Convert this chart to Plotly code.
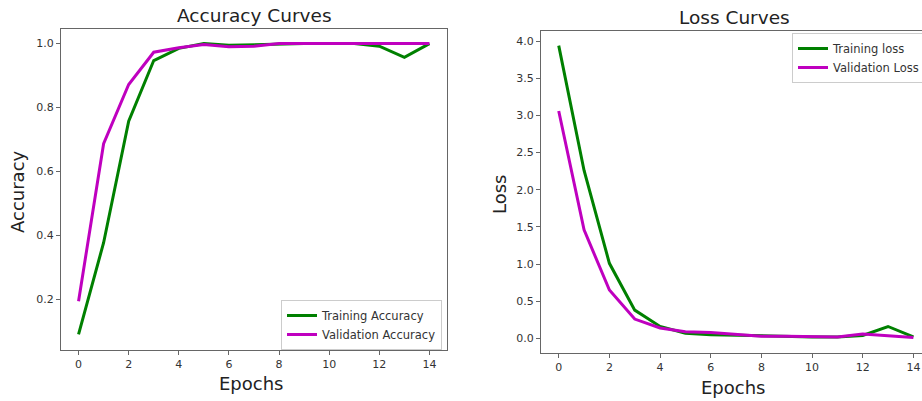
import plotly.graph_objects as go

epochs = list(range(15))
train_acc = [0.090, 0.377, 0.757, 0.947, 0.985, 1.0, 0.995, 0.997, 1.0, 1.0, 1.0, 1.0, 0.992, 0.957, 1.0]
val_acc = [0.194, 0.687, 0.872, 0.973, 0.987, 0.997, 0.990, 0.992, 1.0, 1.0, 1.0, 1.0, 1.0, 1.0, 1.0]
train_loss = [3.94, 2.26, 1.01, 0.38, 0.16, 0.07, 0.05, 0.04, 0.03, 0.02, 0.02, 0.02, 0.04, 0.16, 0.02]
val_loss = [3.06, 1.46, 0.65, 0.26, 0.14, 0.09, 0.08, 0.06, 0.03, 0.03, 0.02, 0.02, 0.06, 0.03, 0.01]
x_ticks = [0, 2, 4, 6, 8, 10, 12, 14]
acc_ticks = [0.2, 0.4, 0.6, 0.8, 1.0]
loss_ticks = [0.0, 0.5, 1.0, 1.5, 2.0, 2.5, 3.0, 3.5, 4.0]

W, H = 922, 401
GREEN = "#008000"
MAGENTA = "#bf00bf"
FONT = "DejaVu Sans"
AX = "#666666"
TXT = "#333333"

def px(v):
    return v / W

def py(v):
    return 1 - v / H

fig = go.Figure()
fig.add_trace(go.Scatter(x=epochs, y=train_acc, mode="lines", name="Training Accuracy",
                         line=dict(color=GREEN, width=3), xaxis="x", yaxis="y", legend="legend"))
fig.add_trace(go.Scatter(x=epochs, y=val_acc, mode="lines", name="Validation Accuracy",
                         line=dict(color=MAGENTA, width=3), xaxis="x", yaxis="y", legend="legend"))
fig.add_trace(go.Scatter(x=epochs, y=train_loss, mode="lines", name="Training loss",
                         line=dict(color=GREEN, width=3), xaxis="x2", yaxis="y2", legend="legend2"))
fig.add_trace(go.Scatter(x=epochs, y=val_loss, mode="lines", name="Validation Loss",
                         line=dict(color=MAGENTA, width=3), xaxis="x2", yaxis="y2", legend="legend2"))

axis_common = dict(showgrid=False, zeroline=False, showline=True, linecolor=AX, linewidth=1.3,
                   ticks="outside", ticklen=4, tickcolor=AX, ticklabeloverflow="allow",
                   tickfont=dict(family=FONT, size=11, color=TXT))

legend_common = dict(bgcolor="rgba(255,255,255,0.8)", bordercolor="#cccccc", borderwidth=1,
                     font=dict(family=FONT, size=11.5, color=TXT), tracegroupgap=0, itemwidth=30)

fig.update_layout(
    width=W, height=H,
    margin=dict(l=0, r=0, t=0, b=0, autoexpand=False),
    paper_bgcolor="white", plot_bgcolor="white",
    font=dict(family=FONT, color=TXT),
    xaxis=dict(domain=[px(61), px(447)], range=[-0.7, 14.7], tickvals=x_ticks,
               mirror=True, anchor="y", **axis_common),
    yaxis=dict(domain=[py(350), py(29)], range=[0.0413, 1.0457], tickvals=acc_ticks,
               tickformat=".1f", mirror=True, anchor="x", **axis_common),
    xaxis2=dict(domain=[px(541), 1.0], range=[-0.7, 14.34], tickvals=x_ticks,
                mirror=True, anchor="y2", **axis_common),
    yaxis2=dict(domain=[py(353), py(31)], range=[-0.197, 4.137], tickvals=loss_ticks,
                tickformat=".1f", mirror=False, anchor="x2", **axis_common),
    legend=dict(x=px(442), y=py(325), xanchor="right", yanchor="middle", **legend_common),
    legend2=dict(x=px(792), y=py(33), xanchor="left", yanchor="top", **legend_common),
    showlegend=True,
)

annotations = [
    dict(text="Accuracy Curves", x=px(254), y=py(16), size=18.5),
    dict(text="Loss Curves", x=px(734), y=py(17), size=18.5),
    dict(text="Epochs", x=px(252), y=py(383), size=18),
    dict(text="Epochs", x=px(733), y=py(387), size=18),
    dict(text="Accuracy", x=px(18), y=py(192), size=18, angle=-90),
    dict(text="Loss", x=px(499), y=py(195), size=18, angle=-90),
]
for a in annotations:
    fig.add_annotation(text=a["text"], x=a["x"], y=a["y"], xref="paper", yref="paper",
                       xanchor="center", yanchor="middle", showarrow=False,
                       textangle=a.get("angle", 0),
                       font=dict(family=FONT, size=a["size"], color="#222222"))

fig.write_html(
    "out.html",
    config={"displayModeBar": False},
    post_script="document.body.style.margin='0px';document.body.style.overflow='hidden';",
)
